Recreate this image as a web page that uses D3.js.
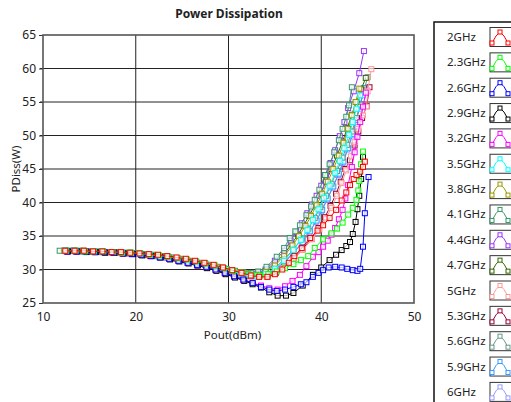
<!DOCTYPE html>
<html>
<head>
<meta charset="utf-8">
<script src="https://cdn.jsdelivr.net/npm/d3@7"></script>
<style>
    body { margin: 0; background: #fff; }
    text { font-family: "Noto Sans", "DejaVu Sans", sans-serif; fill: #222; }
</style>
</head>
<body>
<svg id="chart"></svg>
<script>
// legend labels and colours
const freqLabels = ["2GHz", "2.3GHz", "2.6GHz", "2.9GHz", "3.2GHz", "3.5GHz", "3.8GHz", "4.1GHz",
    "4.4GHz", "4.7GHz", "5GHz", "5.3GHz", "5.6GHz", "5.9GHz", "6GHz"];
const freqColors = ["#ff0000", "#00ff00", "#0000ff", "#000000", "#ff00ff", "#00ffff", "#999900", "#339966",
    "#9933ff", "#336600", "#ff9999", "#990033", "#669988", "#3399ff", "#9999ff"];

const xTicks = [10, 20, 30, 40, 50];
const yTicks = [25, 30, 35, 40, 45, 50, 55, 60, 65];

// [Pout dBm, PDiss W]
const s2GHz = [[12.4,32.8],[13.4,32.8],[14.4,32.8],[15.4,32.7],[16.4,32.7],[17.4,32.6],[18.4,32.6],[19.4,32.5],[20.4,32.4],[21.4,32.3],[22.4,32.2],[23.4,32.0],[24.4,31.8],[25.4,31.6],[26.4,31.3],[27.4,31.0],[28.4,30.7],[29.4,30.3],[30.4,29.9],[31.4,29.5],[32.4,29.1],[33.3,28.9],[34.2,28.9],[35.0,29.3],[35.8,30.0],[36.5,31.0],[37.1,32.0],[37.9,33.2],[38.8,34.7],[39.6,35.8],[40.2,36.6],[40.9,37.7],[41.6,38.9],[42.2,40.3],[42.7,41.5],[43.1,42.6],[43.5,43.5],[43.8,44.1],[44.2,44.6],[44.5,45.3],[44.7,46.1]];
const s23GHz = [[12.5,32.8],[13.5,32.8],[14.5,32.7],[15.5,32.7],[16.5,32.7],[17.5,32.6],[18.5,32.5],[19.5,32.5],[20.5,32.4],[21.5,32.2],[22.5,32.1],[23.5,31.9],[24.5,31.7],[25.5,31.5],[26.5,31.2],[27.5,30.9],[28.5,30.6],[29.5,30.2],[30.5,29.8],[31.5,29.5],[32.5,29.2],[33.4,29.1],[34.3,29.3],[35.2,29.7],[36.1,30.2],[37.0,30.8],[37.8,31.4],[38.6,32.0],[39.3,33.2],[40.2,34.5],[41.1,35.4],[41.7,36.1],[42.3,37.0],[42.9,38.2],[43.4,39.2],[43.8,40.4],[44.0,41.8],[44.1,43.2],[44.3,45.7],[44.5,47.6]];
const s26GHz = [[12.6,32.7],[13.6,32.7],[14.6,32.7],[15.6,32.6],[16.6,32.6],[17.6,32.5],[18.6,32.4],[19.6,32.3],[20.6,32.2],[21.6,32.0],[22.6,31.8],[23.6,31.6],[24.6,31.3],[25.6,31.0],[26.6,30.7],[27.6,30.4],[28.6,30.0],[29.6,29.5],[30.6,29.0],[31.6,28.5],[32.6,28.0],[33.5,27.4],[34.4,27.0],[35.2,26.8],[36.1,27.0],[37.0,27.4],[37.8,27.8],[38.4,28.1],[39.1,28.9],[39.7,29.5],[40.2,29.9],[40.8,30.3],[41.5,30.4],[42.2,30.3],[42.8,30.1],[43.4,29.9],[43.9,29.8],[44.2,30.1],[44.5,33.4],[44.7,38.4],[45.1,43.8]];
const s29GHz = [[12.7,32.7],[13.7,32.7],[14.7,32.6],[15.7,32.6],[16.7,32.5],[17.7,32.5],[18.7,32.4],[19.7,32.3],[20.7,32.1],[21.7,32.0],[22.7,31.8],[23.7,31.5],[24.7,31.2],[25.7,30.9],[26.7,30.6],[27.7,30.2],[28.7,29.8],[29.7,29.3],[30.7,28.8],[31.7,28.3],[32.6,27.8],[33.5,27.3],[34.4,26.6],[35.3,26.1],[36.2,26.1],[37.0,26.5],[38.0,27.6],[39.1,29.2],[40.0,30.3],[40.9,31.4],[41.6,32.2],[42.2,32.9],[42.7,33.5],[43.1,34.1],[43.4,35.3],[43.7,37.1],[43.9,39.0],[44.1,41.0],[44.3,43.5],[44.5,46.8]];
const s32GHz = [[12.6,32.7],[13.6,32.7],[14.6,32.7],[15.6,32.6],[16.6,32.6],[17.6,32.5],[18.6,32.4],[19.6,32.3],[20.6,32.2],[21.6,32.0],[22.6,31.8],[23.6,31.6],[24.6,31.3],[25.6,31.0],[26.6,30.6],[27.6,30.3],[28.6,29.9],[29.6,29.4],[30.6,28.9],[31.6,28.4],[32.6,28.0],[33.5,27.6],[34.4,27.2],[35.3,27.0],[36.1,27.5],[36.9,28.3],[37.7,29.2],[38.4,30.5],[39.1,31.9],[39.7,32.6],[40.2,33.4],[40.7,34.3],[41.1,35.2],[41.5,36.2],[41.9,37.5],[42.3,38.9],[42.6,40.6],[42.9,42.6],[43.3,45.3],[43.6,47.5],[43.9,49.8],[44.2,52.0],[44.5,54.3],[44.8,56.4]];
const s35GHz = [[12.4,32.8],[13.4,32.8],[14.4,32.7],[15.4,32.7],[16.4,32.7],[17.4,32.6],[18.4,32.5],[19.4,32.5],[20.4,32.4],[21.4,32.3],[22.4,32.1],[23.4,31.9],[24.4,31.7],[25.4,31.5],[26.4,31.2],[27.4,30.9],[28.4,30.6],[29.4,30.2],[30.4,29.8],[31.3,29.4],[32.2,29.2],[33.1,29.0],[34.0,29.3],[35.0,30.1],[36.0,31.3],[37.0,32.9],[37.8,34.4],[38.5,35.9],[39.1,37.4],[39.7,39.0],[40.3,40.7],[40.9,42.5],[41.5,44.4],[42.0,46.2],[42.5,48.1],[43.0,50.1],[43.4,52.0],[43.8,54.0],[44.2,56.0]];
const s38GHz = [[12.3,32.8],[13.3,32.8],[14.3,32.8],[15.3,32.7],[16.3,32.7],[17.3,32.6],[18.3,32.6],[19.3,32.5],[20.3,32.4],[21.3,32.3],[22.3,32.1],[23.3,31.9],[24.3,31.7],[25.3,31.5],[26.3,31.2],[27.3,30.9],[28.3,30.6],[29.3,30.3],[30.3,29.9],[31.2,29.6],[32.1,29.3],[33.0,29.2],[34.0,29.6],[35.0,30.6],[36.0,32.0],[36.9,33.6],[37.6,35.0],[38.3,36.5],[38.9,38.0],[39.5,39.6],[40.1,41.3],[40.7,43.1],[41.3,45.0],[41.9,47.0],[42.4,48.9],[42.9,51.0],[43.3,53.0],[43.7,55.0],[44.1,57.0]];
const s41GHz = [[11.8,32.8],[12.8,32.8],[13.8,32.8],[14.8,32.7],[15.8,32.7],[16.8,32.6],[17.8,32.6],[18.8,32.5],[19.8,32.4],[20.8,32.3],[21.8,32.2],[22.8,32.0],[23.8,31.8],[24.8,31.6],[25.8,31.3],[26.8,31.0],[27.8,30.7],[28.8,30.4],[29.8,30.1],[30.7,29.8],[31.6,29.6],[32.4,29.5],[33.2,29.7],[34.1,30.4],[35.2,31.9],[36.0,33.2],[36.6,34.7],[37.2,35.7],[37.7,36.6],[38.4,38.1],[38.9,39.4],[39.3,40.4],[39.8,41.9],[40.4,44.1],[40.9,45.7],[41.4,47.5],[41.9,49.3],[42.3,51.0],[42.7,52.8],[43.0,54.5],[43.3,57.2]];
const s44GHz = [[12.3,32.8],[13.3,32.8],[14.3,32.7],[15.3,32.7],[16.3,32.6],[17.3,32.6],[18.3,32.5],[19.3,32.4],[20.3,32.3],[21.3,32.2],[22.3,32.0],[23.3,31.8],[24.3,31.6],[25.3,31.4],[26.3,31.1],[27.3,30.8],[28.3,30.5],[29.3,30.1],[30.3,29.8],[31.2,29.5],[32.1,29.3],[33.0,29.4],[34.0,30.0],[35.0,31.3],[36.0,32.8],[36.7,34.3],[37.3,35.6],[37.9,36.9],[38.5,38.4],[39.0,39.7],[39.5,41.0],[40.0,42.5],[40.5,44.1],[41.0,45.9],[41.5,47.8],[42.0,49.9],[42.5,52.0],[42.9,54.1],[43.5,56.6],[44.1,59.3],[44.6,62.6]];
const s47GHz = [[12.4,32.8],[13.4,32.8],[14.4,32.8],[15.4,32.7],[16.4,32.7],[17.4,32.6],[18.4,32.5],[19.4,32.5],[20.4,32.4],[21.4,32.2],[22.4,32.1],[23.4,31.9],[24.4,31.7],[25.4,31.4],[26.4,31.2],[27.4,30.9],[28.4,30.5],[29.4,30.2],[30.4,29.8],[31.3,29.5],[32.2,29.4],[33.1,29.3],[34.0,29.8],[35.0,30.9],[36.0,32.3],[36.8,33.8],[37.5,35.2],[38.1,36.6],[38.7,38.0],[39.3,39.6],[39.9,41.3],[40.5,43.1],[41.1,45.0],[41.7,47.0],[42.3,49.1],[42.8,51.1],[43.3,53.1],[43.8,55.0],[44.3,56.9],[44.8,58.6]];
const s5GHz = [[12.5,32.7],[13.5,32.7],[14.5,32.7],[15.5,32.6],[16.5,32.6],[17.5,32.5],[18.5,32.5],[19.5,32.4],[20.5,32.3],[21.5,32.1],[22.5,32.0],[23.5,31.8],[24.5,31.6],[25.5,31.3],[26.5,31.0],[27.5,30.7],[28.5,30.4],[29.5,30.0],[30.5,29.6],[31.4,29.3],[32.3,29.1],[33.2,28.9],[34.1,28.9],[35.0,29.4],[36.0,30.3],[37.0,31.5],[38.0,32.9],[39.0,34.5],[39.8,36.0],[40.5,37.6],[41.1,39.2],[41.7,41.0],[42.2,42.9],[42.7,44.8],[43.2,46.9],[43.6,49.0],[44.0,51.0],[44.5,53.0],[44.9,54.3],[45.0,56.6],[45.4,59.9]];
const s53GHz = [[12.6,32.7],[13.6,32.7],[14.6,32.7],[15.6,32.6],[16.6,32.6],[17.6,32.5],[18.6,32.4],[19.6,32.4],[20.6,32.2],[21.6,32.1],[22.6,31.9],[23.6,31.7],[24.6,31.5],[25.6,31.2],[26.6,30.9],[27.6,30.6],[28.6,30.3],[29.6,29.9],[30.6,29.5],[31.5,29.2],[32.4,29.0],[33.3,28.9],[34.2,29.0],[35.1,29.5],[36.0,30.5],[37.0,31.7],[38.0,33.1],[38.9,34.6],[39.7,36.2],[40.4,37.8],[41.0,39.5],[41.6,41.3],[42.1,43.1],[42.6,45.0],[43.1,46.3],[43.6,48.5],[44.0,50.6],[44.4,52.6],[44.9,54.4],[45.2,57.2]];
const s56GHz = [[12.4,32.8],[13.4,32.8],[14.4,32.7],[15.4,32.7],[16.4,32.6],[17.4,32.6],[18.4,32.5],[19.4,32.4],[20.4,32.3],[21.4,32.2],[22.4,32.0],[23.4,31.8],[24.4,31.6],[25.4,31.4],[26.4,31.1],[27.4,30.8],[28.4,30.5],[29.4,30.1],[30.4,29.7],[31.3,29.4],[32.2,29.3],[33.1,29.1],[34.0,29.4],[35.0,30.2],[36.0,31.5],[37.0,33.0],[37.9,34.6],[38.6,36.1],[39.3,37.7],[39.9,39.3],[40.5,41.0],[41.1,42.8],[41.7,44.7],[42.3,46.7],[42.8,48.6],[43.3,50.6],[43.8,52.6],[44.2,54.6],[44.6,56.7],[45.0,58.7]];
const s59GHz = [[12.5,32.8],[13.5,32.7],[14.5,32.7],[15.5,32.7],[16.5,32.6],[17.5,32.6],[18.5,32.5],[19.5,32.4],[20.5,32.3],[21.5,32.2],[22.5,32.0],[23.5,31.8],[24.5,31.6],[25.5,31.4],[26.5,31.1],[27.5,30.8],[28.5,30.4],[29.5,30.1],[30.5,29.7],[31.4,29.4],[32.3,29.2],[33.2,29.1],[34.1,29.3],[35.0,30.0],[36.0,31.1],[37.0,32.5],[38.0,34.1],[38.8,35.7],[39.5,37.3],[40.1,38.9],[40.7,40.6],[41.3,42.4],[41.9,44.3],[42.4,46.1],[42.9,48.1],[43.4,50.2],[43.8,52.3],[44.2,54.6],[44.6,57.1]];
const s6GHz = [[12.6,32.7],[13.6,32.7],[14.6,32.7],[15.6,32.6],[16.6,32.6],[17.6,32.5],[18.6,32.5],[19.6,32.4],[20.6,32.3],[21.6,32.1],[22.6,32.0],[23.6,31.8],[24.6,31.5],[25.6,31.3],[26.6,31.0],[27.6,30.7],[28.6,30.3],[29.6,29.9],[30.6,29.6],[31.5,29.3],[32.4,29.1],[33.3,29.0],[34.2,29.2],[35.1,29.9],[36.0,31.0],[37.0,32.4],[37.9,33.9],[38.7,35.5],[39.4,37.1],[40.0,38.7],[40.6,40.4],[41.2,42.2],[41.8,44.1],[42.3,45.9],[42.8,47.9],[43.3,50.0],[43.7,52.0],[44.1,54.0],[44.5,56.0]];

const seriesData = [s2GHz, s23GHz, s26GHz, s29GHz, s32GHz, s35GHz, s38GHz, s41GHz,
    s44GHz, s47GHz, s5GHz, s53GHz, s56GHz, s59GHz, s6GHz];

class PowerChart {
    margin = { top: 35, right: 97, bottom: 99, left: 43 }

    constructor(svg, width = 511, height = 402) {
        this.svg = svg;
        this.width = width;
        this.height = height;
    }

    initialize() {
        this.svg = d3.select(this.svg)
            .attr("width", this.width)
            .attr("height", this.height);

        this.plotW = this.width - this.margin.left - this.margin.right;
        this.plotH = this.height - this.margin.top - this.margin.bottom;

        this.container = this.svg.append("g")
            .attr("transform", `translate(${this.margin.left}, ${this.margin.top})`);

        this.x = d3.scaleLinear().domain([10, 50]).range([0, this.plotW]);
        this.y = d3.scaleLinear().domain([25, 65]).range([this.plotH, 0]);
    }

    drawAxes() {
        const g = this.container;

        // grid lines
        g.append("g")
            .selectAll("line.vgrid")
            .data(xTicks.slice(1, -1))
            .join("line")
            .attr("x1", d => this.x(d)).attr("x2", d => this.x(d))
            .attr("y1", 0).attr("y2", this.plotH)
            .attr("stroke", "#222").attr("stroke-width", 1);

        g.append("g")
            .selectAll("line.hgrid")
            .data(yTicks.slice(1, -1))
            .join("line")
            .attr("x1", -3).attr("x2", this.plotW)
            .attr("y1", d => this.y(d)).attr("y2", d => this.y(d))
            .attr("stroke", "#222").attr("stroke-width", 1);

        const xAxis = g.append("g")
            .attr("transform", `translate(0, ${this.plotH})`)
            .call(d3.axisBottom(this.x).tickValues(xTicks).tickSize(0).tickPadding(9));
        xAxis.select(".domain").remove();
        xAxis.selectAll("text").attr("font-size", 12).attr("fill", "#222");

        const yAxis = g.append("g")
            .call(d3.axisLeft(this.y).tickValues(yTicks).tickSize(4).tickPadding(3));
        yAxis.select(".domain").remove();
        yAxis.selectAll("line").attr("stroke", "#333");
        yAxis.selectAll("text").attr("font-size", 12).attr("fill", "#222");

        // frame
        g.append("rect")
            .attr("width", this.plotW).attr("height", this.plotH)
            .attr("fill", "none").attr("stroke", "#555").attr("stroke-width", 1.6);

        this.svg.append("text")
            .attr("x", 229).attr("y", 18)
            .attr("text-anchor", "middle")
            .attr("font-size", 12).attr("font-weight", "bold")
            .text("Power Dissipation");

        this.svg.append("text")
            .attr("x", this.margin.left + this.x(30) + 4).attr("y", 339)
            .attr("text-anchor", "middle")
            .attr("font-size", 11.5)
            .text("Pout(dBm)");

        this.svg.append("text")
            .attr("transform", `translate(20, ${this.margin.top + this.plotH / 2}) rotate(-90)`)
            .attr("text-anchor", "middle")
            .attr("font-size", 11.5)
            .text("PDiss(W)");
    }

    drawSeries() {
        const line = d3.line().x(d => this.x(d[0])).y(d => this.y(d[1]));
        const order = d3.range(seriesData.length).reverse();

        const groups = this.container.append("g")
            .selectAll("g")
            .data(order)
            .join("g");

        groups.append("path")
            .attr("d", i => line(seriesData[i]))
            .attr("fill", "none")
            .attr("stroke", i => freqColors[i])
            .attr("stroke-width", 1);

        groups.selectAll("rect")
            .data(i => seriesData[i].map(p => ({ p, c: freqColors[i] })))
            .join("rect")
            .attr("x", d => this.x(d.p[0]) - 2.5)
            .attr("y", d => this.y(d.p[1]) - 2.5)
            .attr("width", 5).attr("height", 5)
            .attr("fill", "#fff").attr("fill-opacity", 0.7)
            .attr("stroke", d => d.c).attr("stroke-width", 1);
    }

    drawLegend() {
        const lg = this.svg.append("g");
        const left = 434, top = 22, step = 25.35;

        lg.append("rect")
            .attr("x", left).attr("y", top)
            .attr("width", this.width - left + 5).attr("height", this.height - top + 5)
            .attr("fill", "#fff").attr("stroke", "#111").attr("stroke-width", 1.5);

        const items = lg.selectAll("g.item")
            .data(freqLabels)
            .join("g")
            .attr("transform", (d, i) => `translate(0, ${top + 15 + i * step})`);

        items.append("text")
            .attr("x", 447).attr("y", 0)
            .attr("dy", "0.35em")
            .attr("font-size", 11.5)
            .text(d => d);

        items.append("rect")
            .attr("x", 490).attr("y", -9.5)
            .attr("width", 30).attr("height", 19)
            .attr("fill", "#fff").attr("stroke", "#333").attr("stroke-width", 1);

        const glyph = [[492, 6], [496, -1], [500, -5], [504, -1], [508, 6]];
        items.append("polyline")
            .attr("points", glyph.map(p => p.join(",")).join(" "))
            .attr("fill", "none")
            .attr("stroke", (d, i) => freqColors[i]);

        items.selectAll("rect.mk")
            .data((d, i) => [glyph[0], glyph[2], glyph[4]].map(p => ({ p, c: freqColors[i] })))
            .join("rect")
            .attr("class", "mk")
            .attr("x", d => d.p[0] - 2).attr("y", d => d.p[1] - 2)
            .attr("width", 4).attr("height", 4)
            .attr("fill", "#fff").attr("stroke", d => d.c);
    }
}

const chart = new PowerChart(document.getElementById("chart"));
chart.initialize();
chart.drawAxes();
chart.drawSeries();
chart.drawLegend();
</script>
</body>
</html>
